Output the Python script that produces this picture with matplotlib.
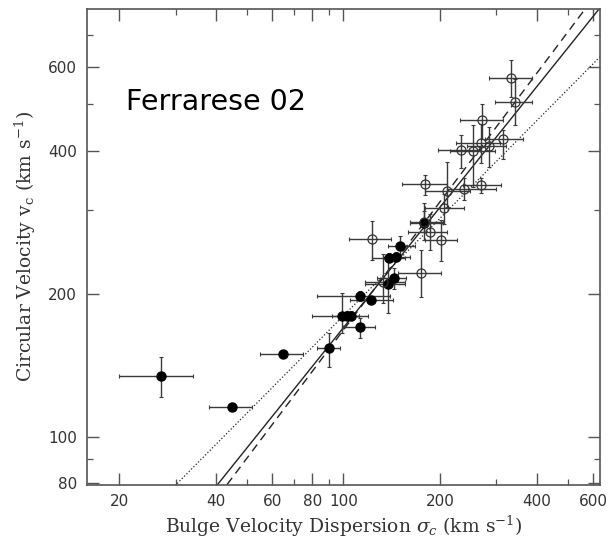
import numpy as np
import matplotlib
matplotlib.use("Agg")
from matplotlib import pyplot as plt
from matplotlib.ticker import FixedLocator, NullFormatter

plt.rcParams['mathtext.fontset'] = 'dejavuserif'

# filled circles: sigma_c, its range, v_c, its range (km/s)
sig_f = [27.0, 45.0, 64.9, 89.9, 99.2, 102.3, 105.5, 112.8, 112.8, 121.5,
         138.0, 143.6, 139.0, 146.0, 150.0, 178.0]
sig_f_lo = [20.0, 38.0, 55.0, 82.5, 79.6, 92.0, 97.0, 99.6, 82.9, 104.8,
            117.0, 127.0, 122.4, 133.0, 137.6, 161.0]
sig_f_hi = [34.0, 52.0, 74.9, 97.5, 119.5, 112.0, 112.0, 125.4, 139.6, 143.0,
            155.5, 157.0, 155.5, 161.0, 167.0, 204.0]
vc_f = [134.6, 115.6, 149.6, 153.8, 179.8, 179.8, 179.8, 170.6, 197.7, 194.0,
        209.6, 215.7, 238.4, 239.5, 252.6, 282.0]
vc_f_lo = [121.7, 115.6, 149.6, 140.6, 165.6, 176.0, 176.0, 161.3, 193.0, 190.0,
           182.0, 205.0, 233.0, 234.0, 241.0, 260.0]
vc_f_hi = [147.6, 115.6, 149.6, 165.6, 201.0, 184.0, 184.0, 178.0, 203.0, 198.0,
           239.0, 227.0, 244.0, 245.0, 265.0, 310.0]

# open circles
sig_o = [334, 344, 271, 315, 268, 285, 232, 253, 179.5, 210, 238, 268,
         205.6, 178, 186, 201, 123, 175, 133]
sig_o_lo = [284, 298, 231, 276, 225, 242, 197, 215, 152.5, 179.5, 210, 236,
            179.5, 161, 159, 179.5, 104, 148, 117]
sig_o_hi = [387, 388, 314, 363, 307, 322, 266, 296, 210, 248, 300, 311,
            238, 204, 210, 226, 141, 201, 155.5]
vc_o = [569, 506, 463, 424, 415, 409, 401, 399, 340, 329.5, 332.5, 338,
        303, 283.6, 269.5, 259, 260.5, 221.6, 212]
vc_o_lo = [518, 453, 423, 385, 376, 370, 367, 336, 323, 305, 315, 326,
           281, 270, 247, 234, 236, 197, 191]
vc_o_hi = [620, 565, 500, 442, 456, 449, 431, 453, 356, 379, 350, 350,
           325, 298, 295, 286, 285, 247, 243]

# fits: log vc = slope * log sigma + zero point
fit_slope = [0.84, 0.895, 0.68]
fit_zero = [0.55, 0.435, 0.895]
fit_style = ['-', (0, (6, 4)), ':']

x_major = [20, 40, 60, 80, 100, 200, 400, 600]
x_minor = [30, 50, 70, 90, 300, 500]
y_major = [80, 100, 200, 400, 600]
y_minor = [90, 300, 500, 700]

xlim = (10 ** 1.2, 10 ** 2.8)
ylim = (10 ** 1.9, 10 ** 2.9)


def errs(val, lo, hi):
    val, lo, hi = np.asarray(val, float), np.asarray(lo, float), np.asarray(hi, float)
    return np.vstack([val - lo, hi - val])


fig = plt.figure(figsize=(6.11, 5.39), dpi=100)
ax = fig.add_axes([0.142, 0.1006, 0.840, 0.8831])
ax.set_xscale('log')
ax.set_yscale('log')

xs = np.logspace(1.0, 3.0, 200)
for m, b, ls in zip(fit_slope, fit_zero, fit_style):
    lw = 1.0 if ls != ':' else 0.9
    ax.plot(xs, 10 ** (m * np.log10(xs) + b), color='#222222', lw=lw, ls=ls)

ebar = dict(fmt='none', ecolor='#3a3a3a', elinewidth=1.0, capsize=1.5,
            capthick=0.8)
ax.errorbar(sig_f, vc_f, xerr=errs(sig_f, sig_f_lo, sig_f_hi),
            yerr=errs(vc_f, vc_f_lo, vc_f_hi), **ebar)
ax.errorbar(sig_o, vc_o, xerr=errs(sig_o, sig_o_lo, sig_o_hi),
            yerr=errs(vc_o, vc_o_lo, vc_o_hi), **ebar)
ax.plot(sig_f, vc_f, 'o', ms=6.5, color='black', mec='black', zorder=5)
ax.plot(sig_o, vc_o, 'o', ms=6.5, mfc='none', mec='#333333', mew=0.9, zorder=5)

ax.set_xlim(*xlim)
ax.set_ylim(*ylim)

ax.xaxis.set_major_locator(FixedLocator(x_major))
ax.xaxis.set_minor_locator(FixedLocator(x_minor))
ax.yaxis.set_major_locator(FixedLocator(y_major))
ax.yaxis.set_minor_locator(FixedLocator(y_minor))
ax.set_xticklabels([str(t) for t in x_major])
ax.set_yticklabels([str(t) for t in y_major])
ax.xaxis.set_minor_formatter(NullFormatter())
ax.yaxis.set_minor_formatter(NullFormatter())

ax.tick_params(which='both', direction='in', top=True, right=True,
               color='#555555', labelcolor='#333333', labelsize=11)
ax.tick_params(which='major', length=8.5, width=1.0, pad=7)
ax.tick_params(which='minor', length=4.3, width=0.9)
for s in ax.spines.values():
    s.set_color('#555555')
    s.set_linewidth(1.2)

ax.set_xlabel(r'Bulge Velocity Dispersion $\sigma_c$ (km s$^{-1}$)',
              family='DejaVu Serif', fontsize=13.5, color='#333333', labelpad=3)
ax.set_ylabel(r'Circular Velocity v$_{\rm c}$ (km s$^{-1}$)',
              family='DejaVu Serif', fontsize=13.5, color='#333333', labelpad=7)

ax.text(0.076, 0.788, 'Ferrarese 02', transform=ax.transAxes,
        fontsize=20.5, family='DejaVu Sans', color='black', va='baseline')

fig.savefig('out.png', dpi=100)
